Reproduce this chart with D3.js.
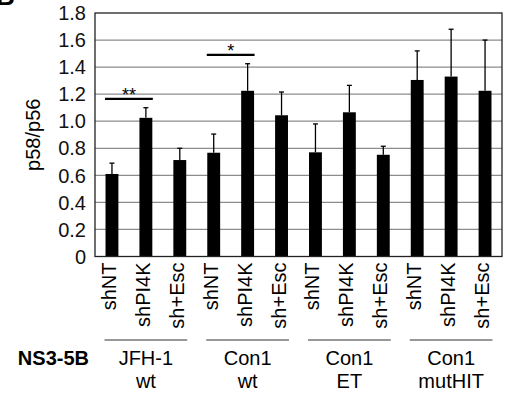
<!DOCTYPE html>
<html>
<head>
<meta charset="utf-8">
<script src="https://cdn.jsdelivr.net/npm/d3@7"></script>
<style>
  body { margin: 0; background: #fff; }
  text { font-family: Arial, "Liberation Sans", sans-serif; }
</style>
</head>
<body>
<div id="chart"></div>
<script>
// data
const conditions = ["shNT", "shPI4K", "sh+Esc"];
const groups = [["JFH-1", "wt"], ["Con1", "wt"], ["Con1", "ET"], ["Con1", "mutHIT"]];
const means = [0.61, 1.025, 0.713, 0.767, 1.225, 1.044, 0.77, 1.066, 0.752, 1.305, 1.33, 1.225];
const errTops = [0.69, 1.10, 0.80, 0.905, 1.425, 1.216, 0.98, 1.265, 0.815, 1.52, 1.68, 1.60];
const yTicks = [0, 0.2, 0.4, 0.6, 0.8, 1.0, 1.2, 1.4, 1.6, 1.8];
const sig = [{ from: 0, to: 1, y: 1.165, label: "**" }, { from: 3, to: 4, y: 1.49, label: "*" }];

const W = 507, H = 396;
const margin = { top: 13, right: 5, bottom: 140, left: 95 };

const svg = d3.select("#chart").append("svg")
    .attr("width", W)
    .attr("height", H);

const bars = [];
groups.forEach((g, gi) => conditions.forEach((c, ci) => bars.push({ key: gi + "-" + ci, cond: c, group: gi })));

const x = d3.scaleBand()
    .domain(bars.map(d => d.key))
    .range([margin.left, W - margin.right])
    .paddingInner(0.62)
    .paddingOuter(0.31);

const y = d3.scaleLinear()
    .domain([0, 1.8])
    .range([H - margin.bottom + 0.5, margin.top]);

// panel letter, mostly cut off in the original too
svg.append("text")
    .attr("x", -4).attr("y", 5)
    .attr("font-size", 26).attr("font-weight", "bold")
    .text("B");

// gridlines
svg.append("g")
    .selectAll("line")
    .data(yTicks.filter(t => t > 0 && t < 1.8))
    .enter().append("line")
    .attr("x1", margin.left).attr("x2", W - margin.right)
    .attr("y1", d => y(d)).attr("y2", d => y(d))
    .attr("stroke", "#8c8c8c").attr("stroke-width", 1.2);

// y tick labels
svg.append("g")
    .selectAll("text")
    .data(yTicks)
    .enter().append("text")
    .attr("x", 86).attr("y", d => y(d))
    .attr("dy", "0.36em")
    .attr("text-anchor", "end")
    .attr("font-size", 20)
    .attr("fill", "#111")
    .text(d => d === 0 ? "0" : d.toFixed(1));

svg.append("text")
    .attr("transform", `translate(40,${(y(0) + y(1.8)) / 2}) rotate(-90)`)
    .attr("text-anchor", "middle")
    .attr("font-size", 20)
    .text("p58/p56");

// bars
svg.append("g")
    .selectAll("rect")
    .data(bars)
    .enter().append("rect")
    .attr("x", d => x(d.key))
    .attr("width", x.bandwidth())
    .attr("y", (d, i) => y(means[i]))
    .attr("height", (d, i) => y(0) - y(means[i]))
    .attr("fill", "#000");

// error bars (upper only)
const err = svg.append("g").attr("stroke", "#000").attr("stroke-width", 1.3);
bars.forEach((d, i) => {
    const cx = x(d.key) + x.bandwidth() / 2;
    err.append("line")
        .attr("x1", cx).attr("x2", cx)
        .attr("y1", y(means[i])).attr("y2", y(errTops[i]));
    err.append("line")
        .attr("x1", cx - 2.5).attr("x2", cx + 2.5)
        .attr("y1", y(errTops[i])).attr("y2", y(errTops[i]));
});

// plot frame
svg.append("rect")
    .attr("x", margin.left).attr("y", margin.top)
    .attr("width", W - margin.right - margin.left)
    .attr("height", y(0) - margin.top)
    .attr("fill", "none")
    .attr("stroke", "#222").attr("stroke-width", 1.3);

// significance brackets
sig.forEach(s => {
    const x1 = x(bars[s.from].key) - 0.5;
    const x2 = x(bars[s.to].key) + x.bandwidth() + 0.5;
    svg.append("line")
        .attr("x1", x1).attr("x2", x2)
        .attr("y1", y(s.y)).attr("y2", y(s.y))
        .attr("stroke", "#000").attr("stroke-width", 2.2);
    svg.append("text")
        .attr("x", (x1 + x2) / 2).attr("y", y(s.y) + 2)
        .attr("text-anchor", "middle")
        .attr("font-size", 18)
        .text(s.label);
});

// condition labels, rotated
svg.append("g")
    .selectAll("text")
    .data(bars)
    .enter().append("text")
    .attr("transform", d => `translate(${x(d.key) + x.bandwidth() / 2 + 4},${y(0) + 6}) rotate(-90)`)
    .attr("text-anchor", "end")
    .attr("font-size", 20)
    .text(d => d.cond);

// group underlines and labels
groups.forEach((g, gi) => {
    const first = x(gi + "-0"), last = x(gi + "-2") + x.bandwidth();
    const mid = (first + last) / 2;
    svg.append("line")
        .attr("x1", first - 1).attr("x2", last + 1)
        .attr("y1", 340).attr("y2", 340)
        .attr("stroke", "#333").attr("stroke-width", 1);
    g.forEach((t, li) => {
        svg.append("text")
            .attr("x", mid).attr("y", 365 + li * 23)
            .attr("text-anchor", "middle")
            .attr("font-size", 20)
            .text(t);
    });
});

svg.append("text")
    .attr("x", 89).attr("y", 365)
    .attr("text-anchor", "end")
    .attr("font-size", 20)
    .attr("font-weight", "bold")
    .text("NS3-5B");
</script>
</body>
</html>
